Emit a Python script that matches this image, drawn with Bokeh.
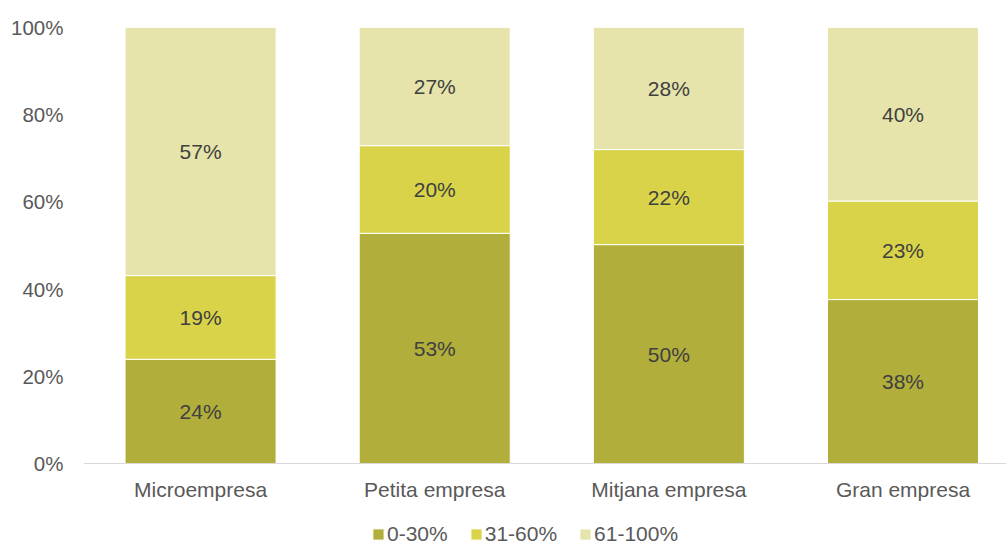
from bokeh.plotting import figure
from bokeh.models import ColumnDataSource, FixedTicker, Legend, LegendItem, Span
from bokeh.core.properties import value
from bokeh.embed import file_html
from bokeh.resources import INLINE

categories = ["Microempresa", "Petita empresa", "Mitjana empresa", "Gran empresa"]
series_names = ["0-30%", "31-60%", "61-100%"]
s_0_30 = [23.9, 52.8, 50.2, 37.6]
s_31_60 = [19.2, 20.1, 21.8, 22.6]
s_61_100 = [56.9, 27.1, 28.0, 39.8]
colors = ["#B1AE3B", "#D9D349", "#E6E4AA"]
y_ticks = [0, 20, 40, 60, 80, 100]

FONT = "Liberation Sans"

xs = list(range(len(categories)))
series = [s_0_30, s_31_60, s_61_100]

# frame runs to the bottom of the canvas; 0% sits 82px above it (436px per 100%)
y_bottom = -82 / 436 * 100

p = figure(width=1006, height=545, output_backend="svg", toolbar_location=None,
           x_axis_location=None,
           x_range=(-0.5, 3.442), y_range=(y_bottom, 100),
           min_border_left=83, min_border_right=0, min_border_top=27, min_border_bottom=0)
p.outline_line_color = None
p.xgrid.visible = False
p.ygrid.visible = False

bottoms = [0.0] * len(categories)
renderers = []
lab_x, lab_y, lab_t = [], [], []
for vals, col in zip(series, colors):
    tops = [b + v for b, v in zip(bottoms, vals)]
    src = ColumnDataSource(dict(x=xs, bottom=bottoms, top=tops))
    r = p.vbar(x="x", bottom="bottom", top="top", width=0.645, source=src,
               fill_color=col, line_color="white", line_width=1)
    renderers.append(r)
    for i, v in enumerate(vals):
        lab_x.append(xs[i])
        lab_y.append(bottoms[i] + v / 2)
        lab_t.append(f"{round(v)}%")
    bottoms = tops

p.text(x=lab_x, y=lab_y, text=lab_t, text_align="center", text_baseline="middle",
       text_font=value(FONT), text_font_size="21px", text_color="#404040")

# category axis: baseline + labels
p.add_layout(Span(location=0, dimension="width", line_color="#D9D9D9", line_width=1))
p.text(x=xs, y=[0] * len(xs), text=categories, text_align="center", text_baseline="middle",
       y_offset=26, text_font=value(FONT), text_font_size="21px", text_color="#595959")

p.yaxis.ticker = FixedTicker(ticks=y_ticks)
p.yaxis.major_label_overrides = {t: f"{t}%" for t in y_ticks}
p.yaxis.axis_line_color = None
p.yaxis.major_tick_line_color = None
p.yaxis.minor_tick_line_color = None
p.yaxis.major_tick_out = 0
p.yaxis.major_label_standoff = 20
p.yaxis.major_label_text_font = FONT
p.yaxis.major_label_text_font_size = "20.5px"
p.yaxis.major_label_text_color = "#595959"

legend = Legend(items=[LegendItem(label=n, renderers=[r]) for n, r in zip(series_names, renderers)],
                orientation="horizontal", location=(288, -1),
                glyph_width=14, glyph_height=14, label_standoff=2, spacing=21,
                padding=0, margin=0, border_line_color=None, background_fill_alpha=0,
                label_text_font=FONT, label_text_font_size="21px", label_text_color="#595959",
                label_height=16)
p.add_layout(legend, "center")

open("out.html", "w").write(file_html(p, INLINE))
